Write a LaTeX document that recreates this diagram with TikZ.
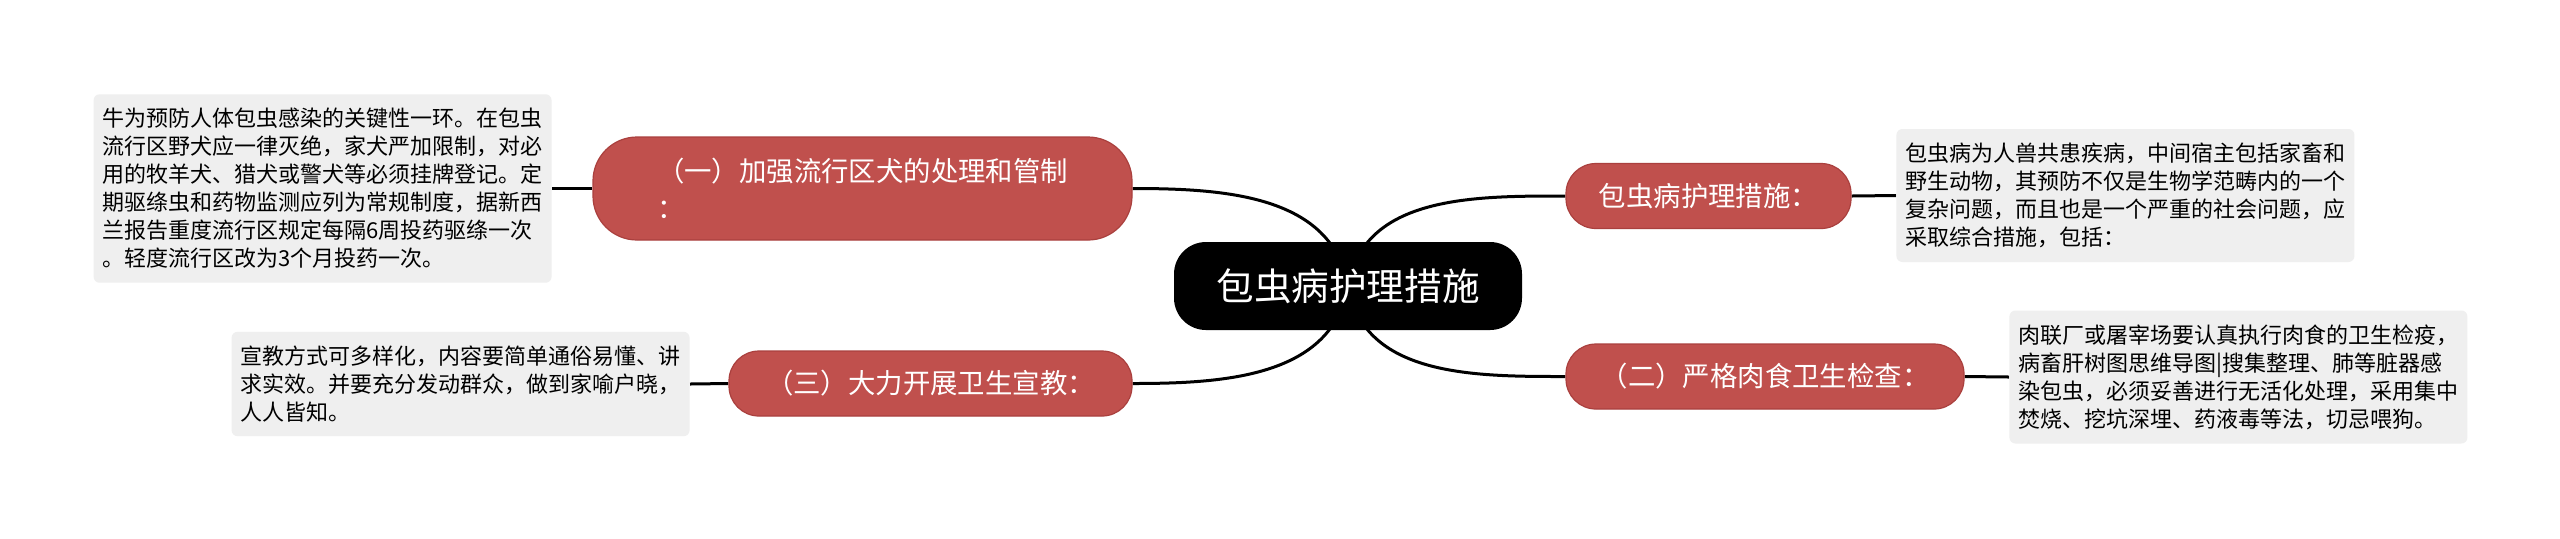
\documentclass[tikz,border=0pt]{standalone}
\usepackage{fontspec}
\setmainfont{Noto Sans CJK SC}
\usepackage{xcolor}
\usepackage{tikz}
\usetikzlibrary{backgrounds}
\definecolor{topicred}{RGB}{192,80,77}
\definecolor{topicedge}{RGB}{170,64,62}
\definecolor{notegray}{RGB}{239,239,239}

\begin{document}
\begin{tikzpicture}[x=0.5pt,y=-0.5pt,
  root/.style={fill=black,text=white,rounded corners=16pt,minimum width=174pt,minimum height=44pt,inner sep=0pt,font=\fontsize{18.8pt}{22pt}\selectfont},
  topic/.style={fill=topicred,draw=topicedge,line width=0.6pt,text=white,rounded corners=15pt,minimum height=32.5pt,inner sep=0pt,font=\fontsize{13.7pt}{18.5pt}\selectfont},
  note/.style={fill=notegray,rounded corners=3pt,text width=220pt,inner xsep=4.5pt,inner ysep=7pt,align=left,font=\fontsize{11pt}{14pt}\selectfont},
  branch/.style={line width=1.5pt}]
\useasboundingbox (0,0) rectangle (2560,538);
% centre and main topics
\node[root] (root) at (1348,286) {包虫病护理措施};
\node[topic,minimum width=269.5pt,minimum height=51.5pt,rounded corners=22pt,align=left] (t1) at (862.5,188.5) {（一）加强流行区犬的处理和管制\\：};
\node[topic,minimum width=201.5pt] (t3) at (930.5,383.5) {（三）大力开展卫生宣教：};
\node[topic,minimum width=142.5pt] (t0) at (1708.5,196) {包虫病护理措施：};
\node[topic,minimum width=199pt] (t2) at (1765,376.5) {（二）严格肉食卫生检查：};
% notes
\node[note,anchor=east] (n1) at (552,188.5) {牛为预防人体包虫感染的关键性一环。在包虫\\流行区野犬应一律灭绝，家犬严加限制，对必\\用的牧羊犬、猎犬或警犬等必须挂牌登记。定\\期驱绦虫和药物监测应列为常规制度，据新西\\兰报告重度流行区规定每隔6周投药驱绦一次\\。轻度流行区改为3个月投药一次。};
\node[note,anchor=east] (n3) at (690,384) {宣教方式可多样化，内容要简单通俗易懂、讲\\求实效。并要充分发动群众，做到家喻户晓，\\人人皆知。};
\node[note,anchor=west] (n0) at (1896,195.5) {包虫病为人兽共患疾病，中间宿主包括家畜和\\野生动物，其预防不仅是生物学范畴内的一个\\复杂问题，而且也是一个严重的社会问题，应\\采取综合措施，包括：};
\node[note,anchor=west] (n2) at (2009,377) {肉联厂或屠宰场要认真执行肉食的卫生检疫，\\病畜肝树图思维导图|搜集整理、肺等脏器感\\染包虫，必须妥善进行无活化处理，采用集中\\焚烧、挖坑深埋、药液毒等法，切忌喂狗。};
% connectors
\begin{scope}[on background layer]
\fill[white] (0,0) rectangle (2560,538);
\draw[branch] (root.center) to[out=80,in=180] (t0.west);
\draw[branch] (root.center) to[out=-80,in=180] (t2.west);
\draw[branch] (root.center) to[out=100,in=0] (t1.east);
\draw[branch] (root.center) to[out=-100,in=0] (t3.east);
\draw[branch] (t1.west) -- (n1.east);
\draw[branch] (t3.west) -- (n3.east);
\draw[branch] (t0.east) -- (n0.west);
\draw[branch] (t2.east) -- (n2.west);
\end{scope}
\end{tikzpicture}
\end{document}
